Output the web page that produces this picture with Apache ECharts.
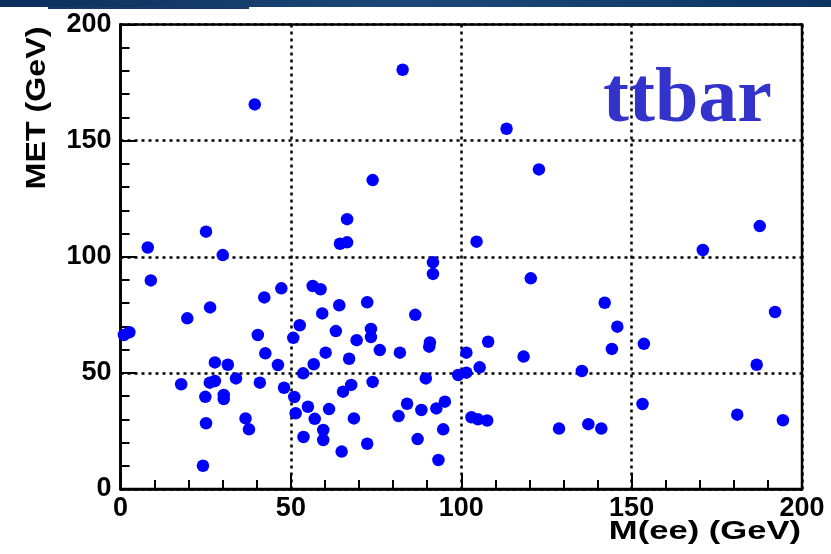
<!DOCTYPE html>
<html>
<head>
<meta charset="utf-8">
<script src="https://cdn.jsdelivr.net/npm/echarts@6/dist/echarts.min.js"></script>
<style>
html,body{margin:0;padding:0;background:#fff;}
#chart{width:831px;height:554px;}
</style>
</head>
<body>
<div id="chart"></div>
<script>
// M(ee) values (GeV)
const meeValues = [
  25.1, 8.0, 30.0, 8.9, 19.6, 26.3, 1.0, 2.6, 40.3, 42.2,
  47.2, 42.5, 46.2, 27.7, 31.5, 33.9, 17.8, 26.2, 27.7, 40.9,
  48.0, 24.9, 30.3, 30.3, 25.1, 36.7, 37.7, 24.2, 39.4,
  50.7, 52.6, 56.4, 58.7, 53.6, 56.7, 51.0, 51.4, 55.0, 57.0,
  53.7, 66.5, 64.4, 66.5, 91.7, 91.7, 64.2, 72.4, 59.2, 86.5,
  63.2, 73.5, 73.5, 69.3, 90.8, 90.6, 60.2, 76.1, 82.0, 67.1,
  74.0, 67.7, 65.3, 89.6, 99.1, 101.5, 101.5, 105.4, 107.9, 61.2,
  59.5, 59.5, 64.9, 68.5, 72.4, 81.6, 84.1, 88.3, 87.2, 92.7,
  95.2, 94.7, 93.3, 103.0, 104.9, 107.6, 82.8, 74.0, 104.5,
  170.9, 187.6, 120.4, 142.1, 192.1, 145.8, 153.6, 144.2, 118.3, 135.4,
  186.7, 153.2, 181.0, 194.4, 128.7, 137.3, 141.1, 113.3, 122.8
];
// MET values (GeV)
const metValues = [
  110.8, 104.0, 100.7, 89.8, 73.5, 78.2, 66.3, 67.5, 66.3, 82.5,
  86.4, 58.4, 53.4, 54.5, 53.5, 47.6, 45.1, 45.8, 46.5, 45.8,
  43.6, 39.7, 40.5, 38.7, 28.3, 30.4, 25.7, 10.0, 165.6,
  65.1, 70.5, 87.4, 86.0, 49.8, 53.7, 39.6, 32.6, 35.4, 30.2,
  22.4, 116.2, 105.6, 106.2, 97.6, 92.6, 79.1, 80.4, 75.6, 75.0,
  68.0, 68.9, 65.4, 64.1, 63.1, 61.3, 58.7, 59.8, 58.7, 56.1,
  46.1, 44.8, 41.9, 47.6, 49.1, 50.1, 58.7, 52.4, 63.4, 34.4,
  25.4, 21.1, 16.1, 30.4, 19.5, 31.4, 36.7, 34.0, 21.5, 34.7,
  37.6, 25.7, 12.5, 30.9, 30.0, 29.5, 180.5, 133.0, 106.5,
  102.9, 113.2, 90.7, 80.2, 76.2, 69.9, 62.5, 60.3, 57.0, 50.8,
  53.5, 36.6, 32.0, 29.6, 26.0, 27.9, 26.0, 155.1, 137.6
];
const xTicks = [0, 50, 100, 150, 200];
const yTicks = [0, 50, 100, 150, 200];
const xTitle = 'M(ee) (GeV)';
const yTitle = 'MET (GeV)';
const label = 'ttbar';

const points = meeValues.map((v, i) => [v, metValues[i]]);

const chart = echarts.init(document.getElementById('chart'), null, {renderer: 'canvas'});
const axisCommon = {
  min: xTicks[0],
  max: xTicks[xTicks.length - 1],
  interval: 50,
  axisLine: {show: true, onZero: false, lineStyle: {color: '#000', width: 2.5}},
  axisTick: {show: true, inside: true, length: 16, lineStyle: {color: '#000', width: 2}},
  minorTick: {show: true, splitNumber: 5, length: 9, lineStyle: {color: '#000', width: 2}},
  splitLine: {show: true, lineStyle: {color: '#000', width: 2.5, type: [3, 4]}},
  axisLabel: {color: '#000', fontFamily: 'Liberation Sans, Arial, sans-serif', fontWeight: 'bold', fontSize: 27}
};
chart.setOption({
  animation: false,
  backgroundColor: '#fff',
  grid: {left: 120.5, right: 29, top: 24.5, bottom: 65, show: true, borderColor: '#000', borderWidth: 2.5, backgroundColor: 'transparent'},
  xAxis: Object.assign({}, axisCommon, {
    type: 'value',
    axisLabel: Object.assign({}, axisCommon.axisLabel, {margin: 6}),
  }),
  yAxis: Object.assign({}, axisCommon, {
    type: 'value',
    min: yTicks[0], max: yTicks[yTicks.length - 1],
    axisLabel: Object.assign({}, axisCommon.axisLabel, {margin: 9}),
  }),
  series: [{
    type: 'scatter',
    data: points,
    symbol: 'circle',
    symbolSize: 12.5,
    itemStyle: {color: '#0000ff', opacity: 1},
    z: 5
  }],
  graphic: [
    {type: 'rect', left: 0, top: 0, shape: {width: 831, height: 7}, style: {fill: new echarts.graphic.LinearGradient(0, 0, 1, 0, [{offset: 0, color: '#0c2f5c'}, {offset: 0.5, color: '#1b4878'}, {offset: 1, color: '#0c3560'}])}, silent: true},
    {type: 'rect', left: 48, top: 7, shape: {width: 201, height: 2}, style: {fill: '#1a3a66'}, silent: true},
    {type: 'text', x: 603, y: 62, style: {text: label, font: 'bold 78px "Liberation Serif", "Times New Roman", serif', fill: '#3333cc', textAlign: 'left', textVerticalAlign: 'top'}, z: 10},
    {type: 'text', x: 801, y: 532, scaleX: 1.33, originX: 0, originY: 0, style: {text: xTitle, font: 'bold 26px "Liberation Sans", Arial, sans-serif', fill: '#000', textAlign: 'right', textVerticalAlign: 'middle'}, z: 10},
    {type: 'text', x: 37, y: 108, rotation: Math.PI / 2, scaleX: 1.15, originX: 0, originY: 0, style: {text: yTitle, font: 'bold 28px "Liberation Sans", Arial, sans-serif', fill: '#000', textAlign: 'center', textVerticalAlign: 'middle'}, z: 10}
  ]
});
</script>
</body>
</html>
